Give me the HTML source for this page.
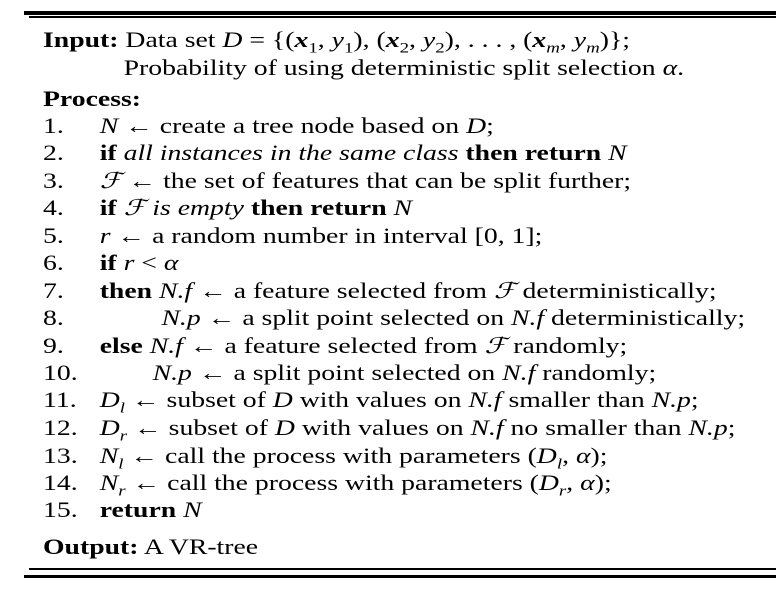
<!DOCTYPE html>
<html><head><meta charset="utf-8"><style>
body{margin:0;width:781px;height:591px;background:#fff;position:relative;overflow:hidden;font-family:"Liberation Serif",serif;font-size:22px;color:#000}
#w{position:absolute;left:43px;top:0;width:600px;height:591px;transform:scaleX(1.26);transform-origin:0 0}
.r{position:absolute;left:0;height:28px;line-height:28px;white-space:nowrap}
.n{position:absolute;left:0}
.c{position:absolute;left:45px}
.bar{position:absolute;background:#000}
i{font-style:italic}
b{font-weight:bold}
sub{font-size:15px}
</style></head><body>
<div class="bar" style="left:24px;top:11px;width:752px;height:4px"></div>
<div class="bar" style="left:29px;top:16px;width:747px;height:2px"></div>
<div class="bar" style="left:29px;top:568px;width:747px;height:2px"></div>
<div class="bar" style="left:24px;top:575px;width:752px;height:3px"></div>
<div id="w">
<div class="r" style="top:26px"><b>Input:</b> Data set <i>D</i> = {(<b><i>x</i></b><sub>1</sub>, <i>y</i><sub>1</sub>), (<b><i>x</i></b><sub>2</sub>, <i>y</i><sub>2</sub>), . . . , (<b><i>x</i></b><sub><i>m</i></sub>, <i>y</i><sub><i>m</i></sub>)};</div>
<div class="r" style="top:54px;left:64px">Probability of using deterministic split selection <i>α</i>.</div>
<div class="r" style="top:85px"><b>Process:</b></div>
<div class="r" style="top:112px"><span class="n">1.</span><span class="c"><i>N</i> ← create a tree node based on <i>D</i>;</span></div>
<div class="r" style="top:139px"><span class="n">2.</span><span class="c"><b>if</b> <i>all instances in the same class</i> <b>then return</b> <i>N</i></span></div>
<div class="r" style="top:167px"><span class="n">3.</span><span class="c"><i>ℱ</i> ← the set of features that can be split further;</span></div>
<div class="r" style="top:194px"><span class="n">4.</span><span class="c"><b>if</b> <i>ℱ is empty</i> <b>then return</b> <i>N</i></span></div>
<div class="r" style="top:222px"><span class="n">5.</span><span class="c"><i>r</i> ← a random number in interval [0, 1];</span></div>
<div class="r" style="top:249px"><span class="n">6.</span><span class="c"><b>if</b> <i>r</i> &lt; <i>α</i></span></div>
<div class="r" style="top:277px"><span class="n">7.</span><span class="c"><b>then</b> <i>N.f</i> ← a feature selected from <i>ℱ</i> deterministically;</span></div>
<div class="r" style="top:304px"><span class="n">8.</span><span class="c" style="left:94px"><i>N.p</i> ← a split point selected on <i>N.f</i> deterministically;</span></div>
<div class="r" style="top:332px"><span class="n">9.</span><span class="c"><b>else</b> <i>N.f</i> ← a feature selected from <i>ℱ</i> randomly;</span></div>
<div class="r" style="top:359px"><span class="n">10.</span><span class="c" style="left:87px"><i>N.p</i> ← a split point selected on <i>N.f</i> randomly;</span></div>
<div class="r" style="top:386px"><span class="n">11.</span><span class="c"><i>D<sub>l</sub></i> ← subset of <i>D</i> with values on <i>N.f</i> smaller than <i>N.p</i>;</span></div>
<div class="r" style="top:414px"><span class="n">12.</span><span class="c"><i>D<sub>r</sub></i> ← subset of <i>D</i> with values on <i>N.f</i> no smaller than <i>N.p</i>;</span></div>
<div class="r" style="top:442px"><span class="n">13.</span><span class="c"><i>N<sub>l</sub></i> ← call the process with parameters (<i>D<sub>l</sub></i>, <i>α</i>);</span></div>
<div class="r" style="top:469px"><span class="n">14.</span><span class="c"><i>N<sub>r</sub></i> ← call the process with parameters (<i>D<sub>r</sub></i>, <i>α</i>);</span></div>
<div class="r" style="top:496px"><span class="n">15.</span><span class="c"><b>return</b> <i>N</i></span></div>
<div class="r" style="top:533px"><b>Output:</b> A VR-tree</div>
</div>
</body></html>
